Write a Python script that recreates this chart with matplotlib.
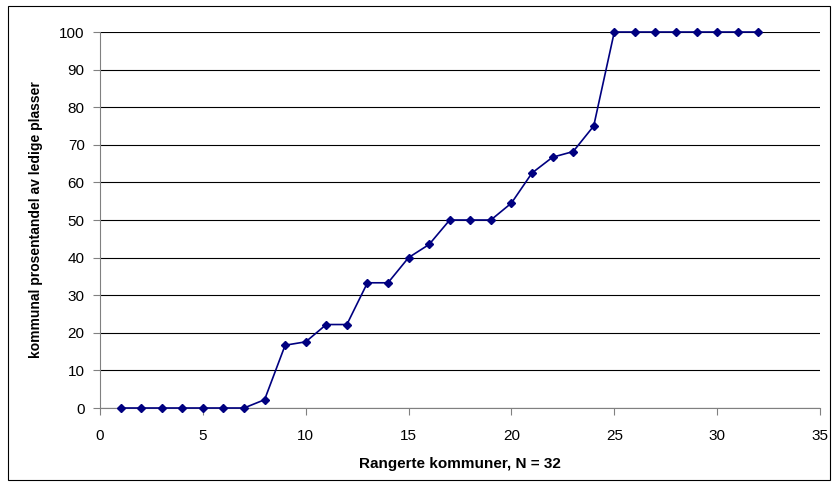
import matplotlib.pyplot as plt
from matplotlib.patches import Rectangle

rank = list(range(1, 33))
share = [0, 0, 0, 0, 0, 0, 0, 2.2, 16.7, 17.6, 22.2, 22.2, 33.3, 33.3, 40, 43.5,
         50, 50, 50, 54.5, 62.5, 66.7, 68.2, 75, 100, 100, 100, 100, 100, 100, 100, 100]

plt.rcParams['font.family'] = ['Liberation Sans', 'DejaVu Sans']

fig = plt.figure(figsize=(8.35, 4.84), dpi=100)
ax = fig.add_axes([100/835, 76/484, 720/835, 376/484])

ax.plot(rank, share, color='#000080', lw=1.2, marker='D', ms=4.5, clip_on=False, zorder=3)

ax.set_xlim(0, 35)
ax.set_ylim(0, 100)
ax.set_xticks(range(0, 36, 5))
ax.set_yticks(range(0, 101, 10))
ax.yaxis.grid(True, color='black', lw=0.8)
ax.set_axisbelow(True)
for s in ['top', 'right']:
    ax.spines[s].set_visible(False)
for s in ['left', 'bottom']:
    ax.spines[s].set_color('#808080')
ax.tick_params(direction='out', length=5, color='#808080', labelsize=11)
ax.tick_params(axis='x', pad=10)
ax.tick_params(axis='y', pad=6)
ax.set_xlabel('Rangerte kommuner, N = 32', fontsize=11, fontweight='bold', labelpad=10)
ax.set_ylabel('kommunal prosentandel av ledige plasser', fontsize=10, fontweight='bold', labelpad=12)

fig.patches.append(Rectangle((8/835, 4/484), 822/835, 474/484, transform=fig.transFigure,
                             fill=False, edgecolor='black', lw=0.8))

fig.savefig('out.png')
